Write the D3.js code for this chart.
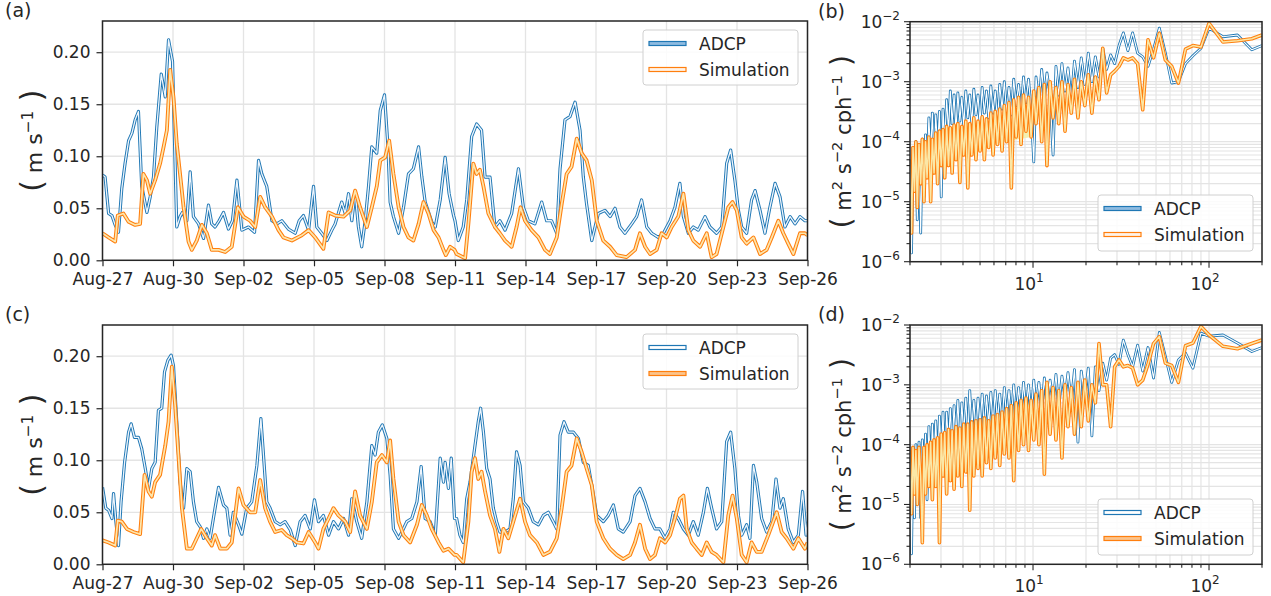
<!DOCTYPE html>
<html>
<head>
<meta charset="utf-8">
<script src="https://cdn.jsdelivr.net/npm/d3@7"></script>
<style>
  body { margin: 0; background: #fff; }
  svg text { font-family: "DejaVu Sans", sans-serif; fill: #262626; }
</style>
</head>
<body>
<svg id="chart" width="1271" height="596"></svg>
<script>
// ---- time axis ----
const dayTicks = [0, 3, 6, 9, 12, 15, 18, 21, 24, 27, 30];
const dateLabels = ["Aug-27", "Aug-30", "Sep-02", "Sep-05", "Sep-08", "Sep-11", "Sep-14", "Sep-17", "Sep-20", "Sep-23", "Sep-26"];
const speedTicks = [0, 0.05, 0.10, 0.15, 0.20];

// ---- (a) speed, [day since Aug-27, m/s] ----
const adcpA = [[0.00,0.082],[0.11,0.080],[0.26,0.045],[0.40,0.043],[0.54,0.034],[0.68,0.027],[0.82,0.069],[0.96,0.093],[1.11,0.115],[1.25,0.122],[1.39,0.135],[1.53,0.143],[1.67,0.071],[1.89,0.046],[2.03,0.061],[2.17,0.080],[2.31,0.128],[2.50,0.179],[2.67,0.157],[2.81,0.212],[2.98,0.191],[3.06,0.119],[3.16,0.032],[3.30,0.042],[3.40,0.046],[3.59,0.038],[3.73,0.085],[3.87,0.042],[4.09,0.035],[4.30,0.021],[4.51,0.053],[4.65,0.035],[4.79,0.032],[4.96,0.038],[5.15,0.046],[5.36,0.030],[5.53,0.038],[5.72,0.077],[5.93,0.029],[6.21,0.032],[6.47,0.027],[6.64,0.096],[6.78,0.083],[6.99,0.071],[7.21,0.038],[7.42,0.035],[7.63,0.038],[7.91,0.030],[8.20,0.026],[8.37,0.038],[8.55,0.043],[8.77,0.029],[8.98,0.071],[9.12,0.032],[9.33,0.026],[9.55,0.019],[9.76,0.029],[9.90,0.035],[10.18,0.056],[10.33,0.045],[10.47,0.064],[10.61,0.038],[10.75,0.066],[10.89,0.032],[11.03,0.013],[11.18,0.038],[11.32,0.071],[11.46,0.109],[11.67,0.103],[11.82,0.144],[12.00,0.159],[12.14,0.112],[12.24,0.056],[12.38,0.042],[12.60,0.026],[12.81,0.051],[13.02,0.083],[13.23,0.088],[13.45,0.109],[13.59,0.080],[13.73,0.056],[14.01,0.037],[14.16,0.032],[14.37,0.058],[14.58,0.099],[14.75,0.064],[14.94,0.043],
  [15.00,0.038],[15.14,0.019],[15.35,0.032],[15.50,0.058],[15.71,0.119],[15.92,0.131],[16.13,0.125],[16.28,0.080],[16.49,0.080],[16.70,0.032],[16.91,0.038],[17.13,0.029],[17.41,0.045],[17.70,0.088],[17.91,0.051],[18.12,0.038],[18.40,0.035],[18.69,0.056],[18.90,0.038],[19.11,0.038],[19.33,0.026],[19.47,0.088],[19.68,0.135],[19.89,0.138],[20.11,0.152],[20.32,0.125],[20.46,0.080],[20.60,0.054],[20.82,0.019],[21.10,0.045],[21.38,0.048],[21.60,0.042],[21.81,0.050],[22.02,0.032],[22.23,0.026],[22.52,0.035],[22.73,0.042],[22.94,0.058],[23.16,0.032],[23.37,0.026],[23.65,0.022],[23.87,0.026],[24.15,0.038],[24.36,0.051],[24.57,0.074],[24.72,0.042],[24.93,0.026],[25.14,0.032],[25.35,0.029],[25.64,0.042],[25.85,0.032],[26.13,0.026],[26.35,0.032],[26.56,0.093],[26.73,0.106],[26.91,0.077],[27.06,0.048],[27.20,0.032],[27.41,0.026],[27.62,0.058],[27.77,0.067],[27.98,0.048],[28.19,0.026],[28.40,0.051],[28.62,0.074],[28.83,0.061],[29.04,0.032],[29.26,0.042],[29.47,0.035],[29.68,0.042],[29.89,0.038],[30.00,0.038]];
const simA = [[0.00,0.026],[0.26,0.022],[0.54,0.018],[0.65,0.043],[0.89,0.045],[1.11,0.037],[1.39,0.034],[1.60,0.035],[1.74,0.083],[1.89,0.077],[2.03,0.064],[2.24,0.077],[2.45,0.093],[2.60,0.109],[2.74,0.125],[2.88,0.183],[3.02,0.157],[3.16,0.112],[3.30,0.083],[3.45,0.051],[3.66,0.018],[3.80,0.010],[4.01,0.019],[4.23,0.034],[4.44,0.026],[4.65,0.010],[4.94,0.010],[5.22,0.008],[5.50,0.013],[5.76,0.051],[6.00,0.042],[6.28,0.038],[6.50,0.032],[6.71,0.061],[6.92,0.051],[7.21,0.042],[7.49,0.029],[7.70,0.022],[8.06,0.019],[8.48,0.024],[8.77,0.029],[9.05,0.022],[9.40,0.011],[9.62,0.046],[9.90,0.043],[10.26,0.042],[10.54,0.048],[10.75,0.067],[10.96,0.051],[11.25,0.032],[11.46,0.051],[11.67,0.071],[11.82,0.096],[12.03,0.099],[12.20,0.115],[12.38,0.083],[12.60,0.051],[12.81,0.032],[13.02,0.022],[13.23,0.019],[13.45,0.035],[13.66,0.056],[13.87,0.045],[14.09,0.029],[14.30,0.022],[14.51,0.010],[14.61,0.005],[14.79,0.013],[14.98,0.010],
  [15.07,0.006],[15.43,0.002],[15.57,0.035],[15.78,0.093],[15.92,0.083],[16.06,0.087],[16.21,0.071],[16.42,0.045],[16.70,0.032],[16.91,0.026],[17.13,0.019],[17.41,0.013],[17.62,0.032],[17.79,0.051],[17.98,0.038],[18.26,0.029],[18.55,0.022],[18.83,0.010],[19.04,0.006],[19.33,0.022],[19.54,0.054],[19.75,0.083],[19.96,0.090],[20.18,0.117],[20.39,0.103],[20.60,0.096],[20.82,0.077],[21.03,0.038],[21.31,0.019],[21.60,0.013],[21.88,0.005],[22.30,0.003],[22.66,0.010],[22.87,0.026],[23.09,0.013],[23.30,0.006],[23.58,0.010],[23.79,0.026],[24.01,0.022],[24.22,0.032],[24.50,0.042],[24.72,0.064],[24.93,0.029],[25.14,0.019],[25.43,0.013],[25.71,0.026],[25.92,0.003],[26.13,0.006],[26.42,0.032],[26.63,0.051],[26.81,0.056],[26.99,0.048],[27.20,0.022],[27.41,0.016],[27.70,0.022],[27.98,0.006],[28.26,0.010],[28.48,0.022],[28.76,0.038],[28.97,0.026],[29.18,0.016],[29.40,0.006],[29.68,0.026],[29.89,0.026],[30.00,0.024]];

// ---- (c) speed ----
const adcpC = [[0.00,0.074],[0.14,0.054],[0.26,0.052],[0.40,0.044],[0.47,0.068],[0.57,0.041],[0.68,0.018],[0.79,0.060],[0.94,0.098],[1.11,0.127],[1.22,0.135],[1.36,0.122],[1.53,0.122],[1.67,0.111],[1.82,0.092],[1.96,0.073],[2.10,0.092],[2.24,0.098],[2.38,0.148],[2.52,0.150],[2.64,0.185],[2.78,0.196],[2.92,0.201],[3.02,0.191],[3.16,0.137],[3.30,0.079],[3.45,0.054],[3.59,0.092],[3.73,0.089],[3.87,0.060],[4.01,0.041],[4.16,0.036],[4.30,0.025],[4.44,0.034],[4.58,0.025],[4.79,0.054],[4.94,0.074],[5.15,0.057],[5.29,0.054],[5.43,0.028],[5.57,0.050],[5.79,0.038],[5.93,0.029],[6.14,0.054],[6.35,0.060],[6.57,0.095],[6.74,0.140],[6.85,0.105],[6.99,0.060],[7.13,0.054],[7.35,0.041],[7.56,0.038],[7.77,0.041],[7.99,0.033],[8.20,0.018],[8.41,0.041],[8.62,0.047],[8.84,0.034],[9.02,0.062],[9.19,0.041],[9.40,0.047],[9.62,0.028],[9.83,0.041],[10.04,0.034],[10.26,0.044],[10.47,0.028],[10.61,0.063],[10.82,0.041],[11.03,0.025],[11.25,0.060],[11.46,0.114],[11.60,0.105],[11.74,0.127],[11.91,0.134],[12.10,0.121],[12.24,0.086],[12.38,0.034],[12.60,0.025],[12.74,0.031],[12.95,0.041],[13.16,0.044],[13.38,0.060],[13.56,0.094],[13.73,0.044],[13.94,0.041],[14.16,0.028],[14.37,0.102],[14.51,0.079],[14.58,0.098],[14.72,0.073],[14.84,0.102],[14.98,0.044],
  [15.07,0.044],[15.21,0.028],[15.35,0.021],[15.50,0.063],[15.64,0.079],[15.85,0.114],[15.99,0.137],[16.09,0.150],[16.21,0.127],[16.35,0.092],[16.49,0.082],[16.63,0.054],[16.77,0.041],[16.91,0.031],[17.13,0.031],[17.34,0.034],[17.48,0.063],[17.62,0.108],[17.77,0.095],[17.91,0.060],[18.12,0.054],[18.33,0.041],[18.55,0.038],[18.76,0.047],[18.97,0.050],[19.18,0.041],[19.33,0.034],[19.47,0.124],[19.64,0.137],[19.82,0.127],[20.04,0.127],[20.25,0.121],[20.46,0.098],[20.67,0.095],[20.82,0.076],[21.03,0.047],[21.31,0.041],[21.52,0.047],[21.74,0.057],[21.95,0.034],[22.16,0.031],[22.45,0.041],[22.66,0.066],[22.87,0.073],[23.09,0.060],[23.30,0.044],[23.51,0.034],[23.72,0.034],[23.94,0.025],[24.15,0.034],[24.29,0.050],[24.50,0.044],[24.72,0.034],[24.93,0.028],[25.14,0.041],[25.35,0.028],[25.57,0.050],[25.74,0.073],[25.92,0.054],[26.13,0.034],[26.35,0.041],[26.56,0.118],[26.73,0.127],[26.91,0.092],[27.06,0.047],[27.20,0.028],[27.41,0.038],[27.55,0.025],[27.70,0.095],[27.84,0.079],[28.05,0.044],[28.26,0.031],[28.48,0.041],[28.66,0.082],[28.83,0.054],[28.97,0.063],[29.18,0.034],[29.40,0.021],[29.61,0.028],[29.79,0.070],[29.94,0.028],[30.00,0.041]];
const simC = [[0.00,0.023],[0.26,0.021],[0.54,0.018],[0.65,0.042],[0.82,0.041],[1.04,0.034],[1.32,0.031],[1.60,0.029],[1.79,0.086],[1.96,0.070],[2.10,0.065],[2.24,0.079],[2.45,0.086],[2.67,0.114],[2.81,0.137],[2.95,0.190],[3.09,0.153],[3.23,0.105],[3.38,0.054],[3.59,0.015],[3.80,0.015],[4.01,0.025],[4.20,0.034],[4.44,0.025],[4.65,0.018],[4.79,0.028],[5.01,0.015],[5.29,0.015],[5.50,0.021],[5.79,0.073],[6.00,0.057],[6.28,0.050],[6.50,0.050],[6.71,0.081],[6.92,0.054],[7.13,0.041],[7.35,0.031],[7.63,0.033],[7.84,0.028],[8.06,0.025],[8.27,0.021],[8.55,0.020],[8.77,0.031],[9.05,0.021],[9.19,0.015],[9.40,0.034],[9.62,0.044],[9.83,0.054],[10.04,0.047],[10.33,0.041],[10.54,0.031],[10.75,0.070],[10.96,0.047],[11.25,0.034],[11.46,0.060],[11.67,0.098],[11.89,0.105],[12.10,0.098],[12.24,0.119],[12.38,0.082],[12.60,0.041],[12.81,0.028],[13.09,0.021],[13.38,0.038],[13.59,0.057],[13.80,0.047],[14.01,0.034],[14.30,0.021],[14.51,0.013],[14.72,0.015],[14.98,0.009],
  [15.07,0.009],[15.35,0.002],[15.57,0.041],[15.71,0.089],[15.85,0.102],[15.99,0.082],[16.13,0.089],[16.28,0.070],[16.49,0.047],[16.70,0.034],[16.89,0.012],[17.06,0.034],[17.27,0.025],[17.48,0.041],[17.77,0.063],[17.98,0.041],[18.19,0.028],[18.48,0.021],[18.76,0.009],[19.04,0.012],[19.33,0.025],[19.54,0.054],[19.75,0.089],[19.96,0.095],[20.18,0.121],[20.39,0.108],[20.60,0.092],[20.82,0.076],[21.03,0.041],[21.31,0.025],[21.60,0.015],[21.88,0.009],[22.16,0.005],[22.45,0.009],[22.66,0.021],[22.87,0.038],[23.09,0.015],[23.30,0.005],[23.51,0.009],[23.72,0.025],[23.94,0.021],[24.15,0.028],[24.36,0.044],[24.57,0.063],[24.72,0.066],[24.86,0.034],[25.07,0.021],[25.28,0.015],[25.50,0.009],[25.71,0.021],[25.92,0.012],[26.13,0.009],[26.42,0.002],[26.63,0.047],[26.81,0.066],[26.99,0.044],[27.20,0.009],[27.41,0.002],[27.62,0.021],[27.84,0.012],[28.05,0.012],[28.33,0.028],[28.69,0.050],[28.90,0.031],[29.11,0.025],[29.40,0.015],[29.61,0.025],[29.89,0.015],[30.00,0.021]];

// ---- spectra: period axis (h) and PSD ----
const periods = [2.00,2.04,2.08,2.12,2.16,2.20,2.25,2.30,2.35,2.40,2.45,2.50,2.56,2.62,2.68,2.74,2.80,2.87,2.94,3.01,3.08,3.15,3.23,3.31,3.39,3.47,3.56,3.65,3.74,3.84,3.94,4.04,4.15,4.26,4.37,4.49,4.61,4.74,4.87,5.00,5.14,5.29,5.44,5.60,5.76,5.93,6.10,6.28,6.47,6.67,6.87,7.08,7.30,7.53,7.77,8.02,8.28,8.55,8.83,9.12,9.43,9.75,10.1,10.4,10.8,11.2,11.6,12.0,12.5,13.0,13.5,14.0,14.6,15.2,15.8,16.5,17.2,18.0,18.8,19.7,20.6,21.6,22.6,23.7,24.9,26.2,27.6,29.1,30.8,32.6,34.6,36.8,39.3,42.0,45.0,48.4,52.2,56.5,61.4,67.0,73.5,81.0,90.0,100,120,145,175,200];
const specAdcpB = [4.0e-5,1.4e-6,8.0e-5,2.0e-5,1.0e-4,5.0e-6,9.0e-5,3.0e-6,1.1e-4,1.2e-5,
  1.3e-4,3.0e-5,2.5e-4,6.0e-5,3.0e-4,4.0e-5,2.8e-4,8.0e-5,3.2e-4,1.2e-5,
  3.5e-4,1.0e-4,5.0e-4,1.5e-4,7.0e-4,2.0e-4,6.0e-4,1.5e-4,6.5e-4,2.2e-4,
  5.5e-4,1.8e-4,7.0e-4,2.5e-4,6.0e-4,2.0e-4,7.5e-4,2.8e-4,6.0e-4,2.0e-4,
  8.0e-4,3.0e-4,7.0e-4,2.5e-4,8.5e-4,3.0e-4,7.0e-4,2.2e-4,9.0e-4,3.5e-4,
  1.0e-3,3.0e-4,8.0e-4,2.8e-4,1.1e-3,4.0e-4,9.0e-4,3.0e-4,1.2e-3,4.5e-4,
  1.1e-3,3.5e-4,4.6e-5,1.2e-3,4.0e-4,1.6e-3,5.0e-4,1.4e-3,6.0e-4,6.0e-5,
  1.8e-3,6.0e-4,2.0e-3,7.0e-4,1.7e-3,5.0e-4,2.2e-3,8.0e-4,2.5e-3,9.0e-4,
  3.0e-3,1.0e-3,2.6e-3,1.2e-3,3.6e-3,
  1.6e-3,2.8e-3,2.0e-3,4.0e-3,6.5e-3,3.3e-3,6.5e-3,3.0e-3,2.6e-3,1.8e-3,3.5e-3,7.8e-3,3.0e-3,9.5e-4,1.0e-3,2.0e-3,2.7e-3,3.6e-3,7.8e-3,5.6e-3,6.0e-3,3.4e-3,4.0e-3];
const specSimB = [5.0e-5,3.0e-6,8.0e-5,1.5e-5,1.0e-4,8.0e-6,9.0e-5,2.0e-5,1.1e-4,1.0e-5,
  1.0e-4,2.5e-5,1.2e-4,1.0e-5,1.1e-4,3.0e-5,1.4e-4,2.0e-5,1.5e-4,4.0e-5,
  1.6e-4,2.5e-5,1.8e-4,4.0e-5,1.7e-4,3.0e-5,1.9e-4,5.0e-5,2.0e-4,2.1e-5,
  1.8e-4,6.0e-5,2.2e-4,1.7e-5,2.0e-4,6.0e-5,2.5e-4,5.0e-5,2.2e-4,7.0e-5,
  2.6e-4,5.0e-5,2.4e-4,8.0e-5,3.0e-4,6.0e-5,3.2e-4,9.0e-5,3.5e-4,7.0e-5,
  4.0e-4,1.0e-4,4.5e-4,1.7e-5,5.0e-4,1.2e-4,5.5e-4,9.0e-5,6.0e-4,1.5e-4,
  5.5e-4,1.2e-4,7.0e-4,2.0e-4,8.0e-4,1.0e-4,9.0e-4,4.0e-5,1.0e-3,2.5e-4,
  8.0e-4,2.0e-4,1.0e-3,1.5e-4,9.0e-4,3.0e-4,1.1e-3,2.5e-4,1.0e-3,4.0e-4,
  1.3e-3,3.0e-4,1.2e-3,5.0e-4,3.6e-3,
  6.5e-4,1.3e-3,1.5e-3,1.8e-3,2.5e-3,2.3e-3,2.5e-3,2.0e-3,3.4e-4,5.0e-3,2.5e-3,6.4e-3,2.3e-3,1.8e-3,9.5e-4,3.5e-3,4.0e-3,3.8e-3,9.4e-3,4.6e-3,4.8e-3,5.2e-3,6.0e-3];
const specAdcpD = [3.0e-5,1.5e-6,9.0e-5,6.0e-6,1.0e-4,1.5e-5,1.1e-4,6.0e-6,1.2e-4,2.0e-5,
  1.5e-4,1.2e-5,2.0e-4,3.0e-5,2.2e-4,5.0e-5,2.5e-4,4.0e-5,3.0e-4,6.0e-5,
  3.5e-4,4.0e-5,3.5e-4,1.0e-4,4.0e-4,8.0e-5,4.5e-4,1.2e-4,5.5e-4,1.0e-4,
  5.0e-4,1.5e-4,6.0e-4,1.2e-4,8.0e-4,1.8e-4,5.5e-4,1.5e-4,6.0e-4,2.0e-4,
  7.0e-4,1.8e-4,6.5e-4,2.2e-4,7.5e-4,2.0e-4,8.0e-4,2.5e-4,7.0e-4,2.2e-4,
  9.0e-4,2.8e-4,8.0e-4,2.5e-4,1.0e-3,3.0e-4,9.0e-4,3.2e-4,1.1e-3,3.5e-4,
  1.0e-3,3.0e-4,1.2e-3,4.0e-4,1.1e-3,3.5e-4,1.3e-3,4.5e-4,1.2e-3,5.0e-4,
  1.5e-3,4.0e-4,1.4e-3,6.0e-4,1.6e-3,5.0e-4,1.8e-3,1.1e-4,1.7e-3,6.0e-4,
  1.9e-3,1.4e-4,2.0e-3,8.0e-4,2.3e-3,
  1.2e-3,2.8e-3,3.2e-3,2.2e-3,5.6e-3,3.2e-3,2.0e-3,4.6e-3,1.7e-3,4.2e-3,1.3e-3,7.5e-3,3.0e-3,1.1e-3,2.6e-3,3.4e-3,1.9e-3,7.3e-3,6.5e-3,6.8e-3,5.0e-3,3.6e-3,4.2e-3];
const specSimD = [8.0e-5,7.0e-6,9.0e-5,1.5e-5,8.0e-5,1.0e-5,9.0e-5,3.0e-5,2.3e-6,9.0e-5,
  1.5e-5,1.0e-4,2.0e-5,1.1e-4,1.2e-5,1.2e-4,2.0e-5,1.3e-4,2.3e-6,1.5e-4,
  3.0e-5,1.6e-4,1.5e-5,1.8e-4,2.5e-5,1.7e-4,1.8e-5,2.0e-4,3.0e-5,1.9e-4,
  2.0e-5,2.2e-4,3.5e-5,2.2e-4,8.0e-6,2.4e-4,3.0e-5,2.5e-4,4.0e-5,2.6e-4,
  3.0e-5,2.8e-4,5.0e-5,2.5e-4,4.0e-5,3.0e-4,6.0e-5,3.2e-4,4.5e-5,3.5e-4,
  7.0e-5,4.0e-4,6.0e-5,4.5e-4,2.5e-5,5.0e-4,8.0e-5,5.5e-4,1.0e-4,6.0e-4,
  8.0e-5,5.5e-4,1.2e-4,7.0e-4,1.0e-4,8.0e-4,3.2e-5,1.1e-3,1.5e-4,9.0e-4,
  1.2e-4,8.0e-4,6.0e-5,1.0e-3,2.0e-4,9.0e-4,1.5e-4,1.1e-3,2.0e-4,1.2e-3,
  2.5e-4,1.0e-3,5.0e-4,4.9e-3,1.0e-3,
  1.0e-3,2.0e-4,2.0e-3,2.6e-3,2.0e-3,2.1e-3,1.9e-3,1.0e-3,1.2e-3,2.2e-3,4.9e-3,6.4e-3,2.3e-3,2.1e-3,1.1e-3,4.5e-3,5.0e-3,9.4e-3,6.8e-3,4.4e-3,4.0e-3,4.9e-3,5.6e-3];

const BLUE = "#1f77b4", ORANGE = "#ff7f0e", INK = "#262626", GRID = "#e4e4e4";
const svg = d3.select("#chart");

// line drawn twice: coloured edge, pale inside
function band(g, pts, x, y, color, inner, wOut, wIn) {
  const line = d3.line().x(d => x(d[0])).y(d => y(d[1]));
  g.append("path").attr("d", line(pts)).attr("fill", "none")
    .attr("stroke", color).attr("stroke-width", wOut).attr("stroke-linejoin", "round");
  g.append("path").attr("d", line(pts)).attr("fill", "none")
    .attr("stroke", inner).attr("stroke-width", wIn).attr("stroke-linejoin", "round");
}

function legend(x0, y0, h, fills) {
  const g = svg.append("g");
  g.append("rect").attr("x", x0).attr("y", y0).attr("width", 155).attr("height", h)
    .attr("rx", 3).attr("fill", "#fff").attr("fill-opacity", 0.85).attr("stroke", "#d0d0d0");
  [["ADCP", BLUE, fills[0]], ["Simulation", ORANGE, fills[1]]].forEach((s, i) => {
    const cy = y0 + 13.5 + i * 26;
    g.append("rect").attr("x", x0 + 6).attr("y", cy - 2).attr("width", 37).attr("height", 4)
      .attr("fill", s[2]).attr("stroke", s[1]).attr("stroke-width", 1.2);
    g.append("text").attr("x", x0 + 56).attr("y", cy + 6).attr("font-size", 17).text(s[0]);
  });
}

function rotLabel(cx, cy, parts, base) {
  const t = svg.append("text").attr("transform", `translate(${cx},${cy}) rotate(-90)`)
    .attr("text-anchor", "middle");
  let raised = false;
  parts.forEach(p => {
    const s = t.append("tspan").text(p[0]);
    if (p[1] === "sup") { s.attr("font-size", base * 0.7).attr("dy", -9); raised = true; }
    else {
      s.attr("font-size", p[1] === "par" ? base * 1.35 : base);
      if (raised) { s.attr("dy", 9); raised = false; }
    }
  });
}

function panelLetter(x, y, s) {
  svg.append("text").attr("x", x).attr("y", y).attr("font-size", 19).text(s);
}

function timePanel(o) {
  const X0 = 102.5, X1 = 807.5;
  const x = d3.scaleLinear([0, 30], [X0, X1]);
  const y = d3.scaleLinear([0, 0.23], [o.bottom, o.top]);
  const g = svg.append("g");
  g.append("g").selectAll("line").data(dayTicks).join("line")
    .attr("x1", d => x(d)).attr("x2", d => x(d)).attr("y1", o.top).attr("y2", o.bottom)
    .attr("stroke", GRID).attr("stroke-width", 1.3);
  g.append("g").selectAll("line").data(speedTicks).join("line")
    .attr("x1", X0).attr("x2", X1).attr("y1", d => y(d)).attr("y2", d => y(d))
    .attr("stroke", GRID).attr("stroke-width", 1.3);

  svg.append("clipPath").attr("id", "clip-" + o.name).append("rect")
    .attr("x", X0).attr("y", o.top).attr("width", X1 - X0).attr("height", o.bottom - o.top);
  const plot = g.append("g").attr("clip-path", `url(#clip-${o.name})`);
  band(plot, o.adcp, x, y, BLUE, "#eef5fc", 3.2, 1.3);
  band(plot, o.sim, x, y, ORANGE, "#fde6ad", 3.8, 1.7);

  const ax = g.append("g").attr("transform", `translate(0,${o.bottom})`)
    .call(d3.axisBottom(x).tickValues(dayTicks).tickFormat((d, i) => dateLabels[i]).tickSize(6).tickPadding(7));
  const ay = g.append("g").attr("transform", `translate(${X0},0)`)
    .call(d3.axisLeft(y).tickValues(speedTicks).tickFormat(d3.format(".2f")).tickSize(6).tickPadding(6));
  [ax, ay].forEach(a => {
    a.attr("font-family", "DejaVu Sans").attr("font-size", 17);
    a.select(".domain").remove();
    a.selectAll(".tick line").attr("stroke", INK).attr("stroke-width", 1.2);
    a.selectAll(".tick text").attr("fill", INK);
  });
  g.append("rect").attr("x", X0).attr("y", o.top).attr("width", X1 - X0).attr("height", o.bottom - o.top)
    .attr("fill", "none").attr("stroke", INK).attr("stroke-width", 1.5);

  legend(643, o.top + 9, 55, o.legendFills);
  rotLabel(42, (o.top + o.bottom) / 2, [["(", "par"], ["  m s", ""], ["\u22121", "sup"], ["  )", "par"]], 22);
  panelLetter(5, o.top - 4, o.letter);
}

function powLabel(sel, exp) {
  sel.append("tspan").text("10");
  sel.append("tspan").attr("font-size", 12).attr("dy", -8).text(exp);
}

function spectrumPanel(o) {
  const X0 = 910, X1 = 1262;
  const x = d3.scaleLog([2, 200], [X0, X1]);
  const y = d3.scaleLog([1e-6, 1e-2], [o.bottom, o.top]);
  const g = svg.append("g");

  const xAll = [2, 3, 4, 5, 6, 7, 8, 9, 10, 20, 30, 40, 50, 60, 70, 80, 90, 100, 200];
  const yAll = [];
  for (let e = -6; e < -2; e++) for (let k = 1; k < 10; k++) yAll.push(k * Math.pow(10, e));
  yAll.push(1e-2);

  g.append("g").selectAll("line").data(xAll).join("line")
    .attr("x1", d => x(d)).attr("x2", d => x(d)).attr("y1", o.top).attr("y2", o.bottom)
    .attr("stroke", GRID).attr("stroke-width", 1.2);
  g.append("g").selectAll("line").data(yAll).join("line")
    .attr("x1", X0).attr("x2", X1).attr("y1", d => y(d)).attr("y2", d => y(d))
    .attr("stroke", GRID).attr("stroke-width", 1.2);

  svg.append("clipPath").attr("id", "clip-" + o.name).append("rect")
    .attr("x", X0).attr("y", o.top).attr("width", X1 - X0).attr("height", o.bottom - o.top);
  const plot = g.append("g").attr("clip-path", `url(#clip-${o.name})`);

  const adcp = periods.map((p, i) => [p, o.adcp[i]]);
  const sim = periods.map((p, i) => [p, o.sim[i]]);
  // pale fill where the simulation curve is dense
  const dense = sim.filter(d => d[0] <= 9.8);
  plot.append("path")
    .attr("d", d3.line().x(d => x(d[0])).y(d => y(d[1]))(dense) + "Z")
    .attr("fill", "#f3efb0").attr("stroke", "none");
  band(plot, adcp, x, y, BLUE, "#ffffff", 2.8, 1.1);
  band(plot, sim, x, y, ORANGE, "#fbe7a6", 3.6, 1.5);

  // ticks
  const tk = g.append("g").attr("stroke", INK).attr("stroke-width", 1.1);
  xAll.forEach(v => {
    const len = (v === 10 || v === 100) ? 6 : 3.5;
    tk.append("line").attr("x1", x(v)).attr("x2", x(v)).attr("y1", o.bottom).attr("y2", o.bottom + len);
  });
  yAll.forEach(v => {
    const major = [1e-6, 1e-5, 1e-4, 1e-3, 1e-2].some(m => Math.abs(v / m - 1) < 1e-6);
    tk.append("line").attr("x1", X0).attr("x2", X0 - (major ? 6 : 3.5)).attr("y1", y(v)).attr("y2", y(v));
  });
  [[10, "1"], [100, "2"]].forEach(t => {
    const s = g.append("text").attr("x", x(t[0]) - 4).attr("y", o.bottom + 28)
      .attr("text-anchor", "middle").attr("font-size", 17);
    powLabel(s, t[1]);
  });
  [[1e-6, "\u22126"], [1e-5, "\u22125"], [1e-4, "\u22124"], [1e-3, "\u22123"], [1e-2, "\u22122"]].forEach(t => {
    const s = g.append("text").attr("x", X0 - 10).attr("y", y(t[0]) + 6)
      .attr("text-anchor", "end").attr("font-size", 17);
    powLabel(s, t[1]);
  });

  g.append("rect").attr("x", X0).attr("y", o.top).attr("width", X1 - X0).attr("height", o.bottom - o.top)
    .attr("fill", "none").attr("stroke", INK).attr("stroke-width", 1.5);

  legend(1098, o.legendY, 56, o.legendFills);
  rotLabel(851, (o.top + o.bottom) / 2,
    [["(", "par"], [" m", ""], ["2", "sup"], [" s", ""], ["\u22122", "sup"], [" cph", ""], ["\u22121", "sup"], [" )", "par"]], 21);
  panelLetter(818, o.top - 4, o.letter);
}

timePanel({ name: "a", top: 21, bottom: 260.3, adcp: adcpA, sim: simA, letter: "(a)", legendFills: ["#8ebbe0", "#fff3e8"] });
timePanel({ name: "c", top: 325, bottom: 564.3, adcp: adcpC, sim: simC, letter: "(c)", legendFills: ["#ffffff", "#fbc48c"] });
spectrumPanel({ name: "b", top: 21.7, bottom: 261.7, adcp: specAdcpB, sim: specSimB, letter: "(b)", legendY: 195, legendFills: ["#8ebbe0", "#fff3e8"] });
spectrumPanel({ name: "d", top: 325, bottom: 564.3, adcp: specAdcpD, sim: specSimD, letter: "(d)", legendY: 499, legendFills: ["#ffffff", "#fbc48c"] });
</script>
</body>
</html>
